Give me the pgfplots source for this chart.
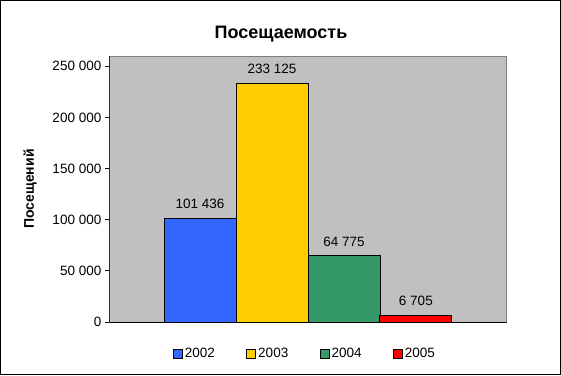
\documentclass[border=0pt]{standalone}
\usepackage{pgfplots}
\pgfplotsset{compat=1.18}
\usepackage{fontspec}
\setmainfont{Liberation Sans}
\definecolor{c2002}{HTML}{3366FF}
\definecolor{c2003}{HTML}{FFCC00}
\definecolor{c2004}{HTML}{339966}
\definecolor{c2005}{HTML}{FF0000}
\definecolor{plotgray}{HTML}{C0C0C0}
\definecolor{bordergray}{HTML}{808080}
\newcommand{\lblfont}{\fontsize{13.5}{15}\selectfont}
\begin{document}
\begin{tikzpicture}
\begin{axis}[
  name=ax, at={(0pt,0pt)}, anchor=south west,
  scale only axis, width=397pt, height=266pt,
  xmin=-0.26, xmax=5.26, ymin=0, ymax=260000,
  axis background/.style={fill=plotgray},
  axis line style={draw=bordergray, line width=0.9pt},
  xtick=\empty,
  ytick={0,50000,100000,150000,200000,250000},
  yticklabels={0,50 000,100 000,150 000,200 000,250 000},
  scaled y ticks=false,
  ytick pos=left,
  tick align=outside,
  major tick length=4pt,
  y tick style={black, line width=0.8pt},
  yticklabel style={font=\lblfont, inner sep=0pt, xshift=-4pt},
  ylabel={\textbf{Посещений}},
  every axis y label/.style={at={(axis description cs:-0.2,0.5)}, anchor=center, rotate=90, font=\fontsize{14}{16}\selectfont},
  title={\textbf{Посещаемость}},
  every axis title/.style={font=\fontsize{18}{20}\selectfont, at={(axis description cs:0.432,1.066)}, anchor=base},
  ybar, bar shift=0pt, bar width=72pt,
  every axis plot/.append style={draw=black, line width=0.9pt},
  nodes near coords,
  point meta=explicit symbolic,
  every node near coord/.append style={font=\lblfont, anchor=south, inner sep=0pt, yshift=9pt, black},
  legend columns=4,
  legend style={draw=none, fill=none, at={(0.4925,-0.12)}, anchor=center, font=\lblfont,
    /tikz/every even column/.append style={column sep=29.5pt}},
  legend image code/.code={\draw[#1, draw=black, line width=0.8pt] (0pt,-4.5pt) rectangle (9pt,4.5pt);},
]
\addplot[fill=c2002] coordinates {(1,101436) [101 436]};
\addplot[fill=c2003] coordinates {(2,233125) [233 125]};
\addplot[fill=c2004] coordinates {(3,64775) [64 775]};
\addplot[fill=c2005] coordinates {(4,6705) [6 705]};
\legend{2002,2003,2004,2005}
\draw[black, line width=0.9pt] (rel axis cs:0,1) -- (rel axis cs:0,0) -- (rel axis cs:1,0);
\end{axis}
\pgfresetboundingbox
\useasboundingbox (-109.5pt,-53pt) rectangle (451.5pt,322pt);
\draw[black, line width=1.3pt] (-108.85pt,-52.35pt) rectangle (450.85pt,321.35pt);
\end{tikzpicture}
\end{document}
